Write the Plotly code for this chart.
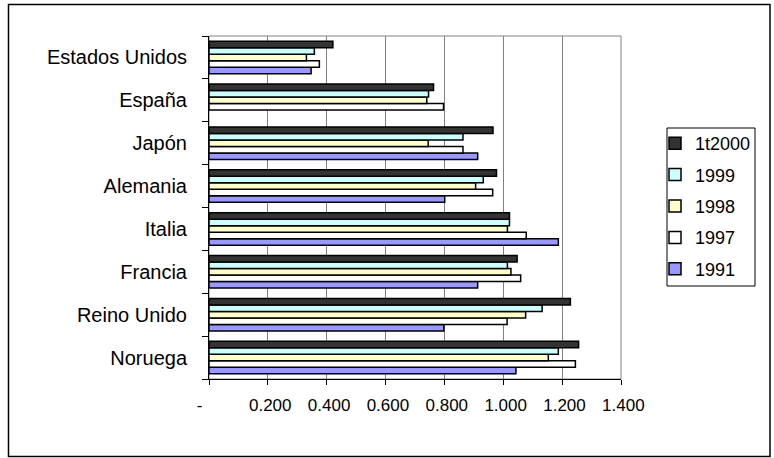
import plotly.graph_objects as go

# Countries listed bottom-to-top as they appear on the category axis
countries = ["Noruega", "Reino Unido", "Francia", "Italia",
             "Alemania", "Japón", "España", "Estados Unidos"]

v1991 = [1.043, 0.798, 0.913, 1.187, 0.801, 0.913, None, 0.347]
v1997 = [1.245, 1.013, 1.059, 1.078, 0.964, 0.863, 0.797, 0.375]
v1998 = [1.153, 1.076, 1.026, 1.014, 0.906, 0.745, 0.740, 0.331]
v1999 = [1.187, 1.132, 1.014, 1.021, 0.932, 0.863, 0.746, 0.358]
v1t2000 = [1.256, 1.228, 1.047, 1.021, 0.977, 0.965, 0.763, 0.421]

series_names = ["1991", "1997", "1998", "1999", "1t2000"]
series_values = [v1991, v1997, v1998, v1999, v1t2000]
series_colors = ["#9999FF", "#FFFFFF", "#FFFFCC", "#CCFFFF", "#333333"]

tick_vals = [0, 0.2, 0.4, 0.6, 0.8, 1.0, 1.2, 1.4]
tick_text = ["-\u00a0\u00a0\u00a0\u00a0", "\u00a00.200", "\u00a00.400", "\u00a00.600",
             "\u00a00.800", "\u00a01.000", "\u00a01.200", "\u00a01.400"]

FONT = "Liberation Sans, Arial, sans-serif"
W, H = 774, 458
L, R, T, B = 209, 621, 36, 379  # plot area in pixels
pw, ph = R - L, B - T


def px_x(x):
    return (x - L) / pw


def px_y(y):
    return (B - y) / ph


fig = go.Figure()
n = len(series_names)
for i, (name, vals, col) in enumerate(zip(series_names, series_values, series_colors)):
    fig.add_trace(go.Bar(
        y=countries, x=vals, name=name, orientation="h",
        legendgroup=name, legendrank=n - i,
        marker=dict(color=col, line=dict(color="#000000", width=1.5)),
    ))

fig.update_layout(
    width=W, height=H,
    margin=dict(l=L, r=W - R, t=T, b=H - B, pad=0),
    paper_bgcolor="#FFFFFF", plot_bgcolor="#FFFFFF",
    font=dict(family=FONT, color="#000000"),
    barmode="group", bargap=0.24, bargroupgap=0.0,
    showlegend=True,
    legend=dict(
        x=px_x(655), y=px_y(125), xanchor="left", yanchor="top",
        traceorder="grouped", tracegroupgap=5,
        font=dict(size=18, family=FONT),
        borderwidth=0, bgcolor="rgba(0,0,0,0)",
    ),
    xaxis=dict(
        range=[0, 1.4], tickvals=tick_vals, ticktext=tick_text,
        showgrid=True, gridcolor="#808080", gridwidth=1,
        zeroline=False, showline=True, linecolor="#000000", linewidth=1,
        ticks="outside", ticklen=5, tickcolor="#000000",
        tickfont=dict(size=17, family=FONT), ticklabelstandoff=6,
    ),
    yaxis=dict(
        type="category", showgrid=False, zeroline=False,
        showline=True, linecolor="#000000", linewidth=1,
        ticks="outside", tickson="boundaries", ticklen=6, tickcolor="#000000",
        tickfont=dict(size=20, family=FONT), ticklabelstandoff=17,
    ),
    shapes=[
        # plot-area frame
        dict(type="rect", xref="paper", yref="paper", x0=0, x1=1, y0=0, y1=1,
             line=dict(color="#808080", width=1), layer="below"),
        # legend box
        dict(type="rect", xref="paper", yref="paper",
             x0=px_x(667), x1=px_x(755), y0=px_y(286), y1=px_y(128),
             line=dict(color="#000000", width=1), layer="below"),
        # outer chart frame
        dict(type="rect", xref="paper", yref="paper",
             x0=px_x(8.5), x1=px_x(770), y0=px_y(456.5), y1=px_y(4.5),
             line=dict(color="#000000", width=1.5)),
    ],
)

fig.write_html("out.html")
